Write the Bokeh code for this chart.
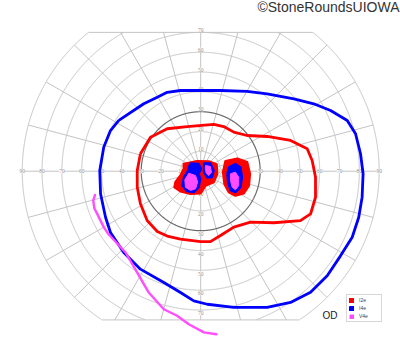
import numpy as np
from bokeh.plotting import figure
from bokeh.models import ColumnDataSource, LabelSet, Label, Legend, LegendItem, Range1d
from bokeh.embed import file_html
from bokeh.resources import INLINE

# ---------------- data (degrees of visual field) ----------------
eccentricities = [10, 20, 30, 40, 50, 60, 70, 80, 90]
meridians = list(range(0, 360, 15))
top_limit = 70
bottom_limit = -75
h_labels = ["10", "20", "30", "40", "50", "60", "70", "80", "90"]
v_labels = ["10", "20", "30", "40", "50", "60", "70"]

# I4e isopter (blue)
i4e_x = [-41.3, -28.7, -21.9, -16.9, -10.2, -0.1, 10.0, 23.4, 33.5, 47.0, 57.0, 65.5, 73.9,
         78.1, 80.6, 81.9, 81.4, 79.7, 76.4, 70.5, 63.8, 55.4, 45.3, 33.5, 16.7, 3.3, -3.5,
         -10.2, -18.6, -30.4, -38.8, -45.5, -48.0, -50.5, -50.9, -48.9, -45.5, -41.3]
i4e_y = [25.6, 34.0, 37.3, 39.8, 40.7, 40.7, 40.7, 40.3, 39.0, 36.5, 34.0, 30.6, 25.6,
         18.9, 8.8, -1.3, -13.1, -23.2, -33.3, -42.7, -52.7, -61.1, -66.2, -68.7, -68.7, -67.1, -65.4,
         -61.2, -56.1, -49.4, -41.0, -30.9, -23.2, -11.4, 0.4, 12.1, 20.5, 25.6]

# I2e isopter (red)
i2e_x = [-30.4, -25.3, -16.9, -6.8, 6.6, 11.6, 16.7, 23.4, 33.5, 45.3, 53.7, 56.2, 57.9, 57.9,
         55.4, 50.3, 36.9, 25.1, 16.7, 10.0, 4.9, -0.1, -10.2, -16.9, -21.9, -27.0, -30.4, -32.0,
         -32.0, -30.4]
i2e_y = [8.8, 17.1, 21.4, 22.5, 23.6, 22.5, 19.7, 18.0, 17.5, 15.5, 11.3, 5.4, -3.0, -13.1,
         -21.5, -24.9, -26.0, -25.7, -28.2, -32.4, -35.5, -35.5, -34.2, -32.7, -30.4, -24.9, -16.4, -8.1,
         0.4, 8.8]

# V4e isopter (magenta, open)
v4e_x = [-53.3, -54.2, -53.6, -52.2, -48.9, -46.8, -37.9, -32.0, -26.2, -18.6, -11.9, -6.0, 1.6, 8.0]
v4e_y = [-12.0, -14.8, -18.8, -21.5, -28.2, -31.4, -41.0, -51.1, -61.2, -69.6, -72.9, -77.2, -81.3, -82.2]

# central islands
i2e_islands_x = [
    [-8.5, -1.8, 4.1, 8.0, 8.3, 6.6, 2.4, -0.1, -5.1, -10.2, -13.2, -12.7, -10.2, -8.5],
    [12.5, 18.4, 23.4, 24.8, 24.3, 21.7, 17.5, 14.2, 12.0, 11.3],
]
i2e_islands_y = [
    [3.7, 5.0, 4.9, 3.4, -1.3, -5.5, -7.2, -11.1, -11.4, -10.1, -8.1, -5.5, -2.2, 1.2],
    [5.0, 6.3, 4.5, -1.3, -7.2, -11.1, -12.3, -10.6, -6.4, -0.5],
]
i4e_islands_x = [
    [-5.1, -1.0, 0.3, -1.0, -0.1, -1.0, -3.5, -6.8, -9.3, -8.5, -6.8, -6.0],
    [1.6, 4.9, 6.6, 5.8, 3.3, 1.6],
    [14.2, 17.5, 20.1, 20.9, 20.1, 17.5, 15.0, 13.7, 13.4],
]
i4e_islands_y = [
    [4.0, 3.7, 1.2, -1.3, -3.8, -8.1, -10.6, -10.1, -7.2, -3.0, -0.5, 2.0],
    [4.0, 4.0, 0.4, -3.0, -3.3, -0.5],
    [2.0, 3.7, 2.0, -3.0, -8.1, -10.6, -9.7, -5.5, -1.3],
]
v4e_islands_x = [
    [-6.0, -2.6, -1.5, -2.6, -5.1, -7.7, -8.0],
    [2.4, 4.9, 5.4, 4.1, 2.8, 2.3],
    [15.0, 17.5, 19.2, 19.2, 17.5, 15.9, 15.0],
]
v4e_islands_y = [
    [-1.0, -2.2, -5.5, -8.9, -9.7, -8.1, -4.3],
    [2.9, 2.4, -0.5, -2.2, -1.0, 1.2],
    [-1.3, -0.5, -3.0, -7.2, -9.4, -8.1, -4.7],
]

legend_labels = ["I2e", "I4e", "V4e"]
colors = ["#ff0000", "#0000ff", "#ff4dff"]

# ---------------- figure ----------------
p = figure(width=400, height=352, x_range=Range1d(-100.96, 100.76), y_range=Range1d(-91.43, 86.08),
           output_backend="svg", toolbar_location=None, min_border=0,
           x_axis_location=None, y_axis_location=None, title=None)
p.outline_line_color = None
p.xgrid.visible = False
p.ygrid.visible = False
p.background_fill_color = "white"


def segments(x, y, mask):
    xs, ys = [], []
    idx = np.where(mask)[0]
    if len(idx) == 0:
        return xs, ys
    breaks = np.where(np.diff(idx) > 1)[0]
    starts = np.concatenate([[0], breaks + 1])
    ends = np.concatenate([breaks, [len(idx) - 1]])
    for s, e in zip(starts, ends):
        sl = idx[s:e + 1]
        xs.append(list(x[sl]))
        ys.append(list(y[sl]))
    return xs, ys


theta = np.linspace(0, 2 * np.pi, 1441)
cx, cy = [], []
for r in eccentricities:
    if r == 30:
        continue
    x = r * np.cos(theta)
    y = r * np.sin(theta)
    m = (y <= top_limit + 1e-9) & (y >= bottom_limit - 1e-9)
    sx, sy = segments(x, y, m)
    cx += sx
    cy += sy

rmax = max(eccentricities)
for lim in (top_limit, bottom_limit):
    hw = np.sqrt(rmax ** 2 - lim ** 2)
    cx.append([-hw, hw])
    cy.append([lim, lim])

for a in meridians:
    t = np.radians(a)
    s = np.sin(t)
    L = rmax
    if s > 1e-9:
        L = min(L, top_limit / s)
    elif s < -1e-9:
        L = min(L, bottom_limit / s)
    cx.append([0, L * np.cos(t)])
    cy.append([0, L * np.sin(t)])

p.multi_line(cx, cy, line_color="#c4c4c4", line_width=1, level="underlay")
p.line(30 * np.cos(theta), 30 * np.sin(theta), line_color="#6a6a6a", line_width=1.2, level="underlay")

# axis tick labels
lx, ly, lt = [], [], []
for r, t in zip(eccentricities, h_labels):
    lx += [-r, r]
    ly += [0, 0]
    lt += [t, t]
for r, t in zip(eccentricities, v_labels):
    lx += [0, 0]
    ly += [r + 1.2, -r - 1.6]
    lt += [t, t]
lsrc = ColumnDataSource(dict(x=lx, y=ly, t=lt))
p.add_layout(LabelSet(x="x", y="y", text="t", source=lsrc, text_font_size="5.5px",
                      text_color="#8f8f8f", text_align="center", text_baseline="middle",
                      background_fill_color="white", text_font="Liberation Sans",
                      level="underlay"))

# islands
r_red = p.patches(i2e_islands_x, i2e_islands_y, fill_color=colors[0], line_color=colors[0],
                  line_width=2.5, line_join="round")
r_blue = p.patches(i4e_islands_x, i4e_islands_y, fill_color=colors[1], line_color=colors[1],
                   line_width=2, line_join="round")
r_mag = p.patches(v4e_islands_x, v4e_islands_y, fill_color=colors[2], line_color=colors[2],
                  line_width=1, line_join="round")

# isopters
p.line(i2e_x, i2e_y, line_color=colors[0], line_width=2.8, line_join="round")
p.line(i4e_x, i4e_y, line_color=colors[1], line_width=2.8, line_join="round")
p.line(v4e_x, v4e_y, line_color=colors[2], line_width=2.4, line_join="round", line_cap="round")

legend = Legend(items=[LegendItem(label=legend_labels[0], renderers=[r_red]),
                       LegendItem(label=legend_labels[1], renderers=[r_blue]),
                       LegendItem(label=legend_labels[2], renderers=[r_mag])],
                location=(346, 30), label_text_font_size="5px", glyph_height=5, glyph_width=5,
                label_height=5, label_standoff=5, spacing=2, padding=2, margin=0,
                border_line_color="#b0b0b0", border_line_width=1, label_text_color="#444444",
                label_text_font="Liberation Sans")
p.add_layout(legend)

p.add_layout(Label(x=322, y=32, x_units="screen", y_units="screen", text="OD",
                   text_font_size="10px", text_font="Liberation Sans", text_color="#222222"))
p.add_layout(Label(x=399, y=338, x_units="screen", y_units="screen", text="©StoneRoundsUIOWA",
                   text_font_size="14px", text_font="Liberation Sans", text_color="#333333",
                   text_align="right"))

open("out.html", "w").write(file_html(p, INLINE))
